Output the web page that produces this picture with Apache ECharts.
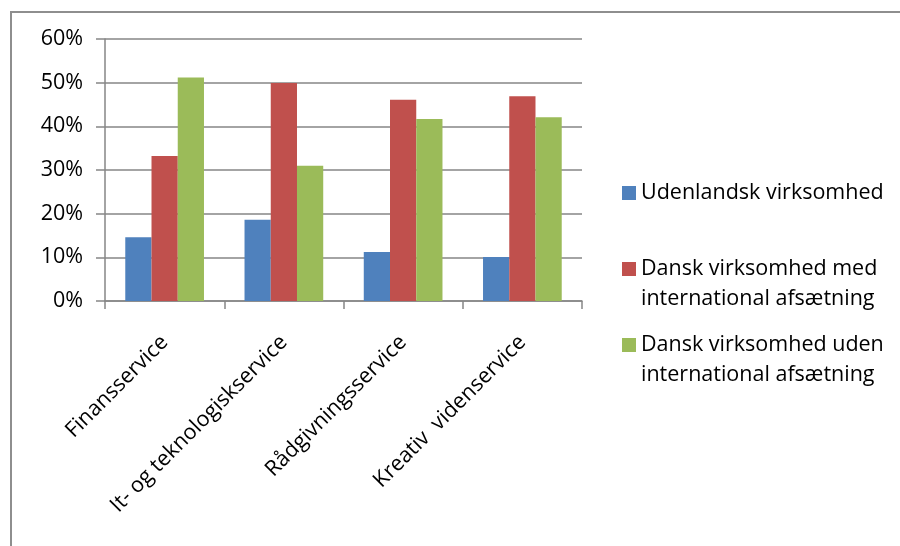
<!DOCTYPE html>
<html>
<head>
<meta charset="utf-8">
<script src="https://cdn.jsdelivr.net/npm/echarts@6/dist/echarts.min.js"></script>
<style>
  html, body { margin: 0; padding: 0; background: #ffffff; }
  #chart { width: 900px; height: 546px; }
</style>
</head>
<body>
<div id="chart"></div>
<script>
// Branche categories on the x axis
const categories = ['Finansservice', 'It- og teknologiskservice', 'Rådgivningsservice', 'Kreativ  videnservice'];

// Series names (legend entries)
const seriesNames = [
  'Udenlandsk virksomhed',
  'Dansk virksomhed med\ninternational afsætning',
  'Dansk virksomhed uden\ninternational afsætning'
];

// Shares in percent per category
const udenlandsk = [14.6, 18.6, 11.2, 10.1];
const danskMed = [33.2, 49.9, 46.1, 46.9];
const danskUden = [51.2, 31.0, 41.7, 42.1];

// Y axis range (percent)
const yMin = 0;
const yMax = 60;
const yStep = 10;

const colors = ['#4F81BD', '#C0504D', '#9BBB59'];
const FONT = '"Open Sans", "DejaVu Sans", sans-serif';
const FONT_SIZE = 21.5;
const axisGray = '#868686';

const chart = echarts.init(document.getElementById('chart'), null, { renderer: 'canvas' });

// One legend block per series so the entries can be spaced individually.
// Two-line names get a leading empty line so the swatch sits beside the first line.
function legendFor(index, top) {
  return {
    data: [seriesNames[index]],
    left: 622,
    top: top,
    orient: 'vertical',
    padding: 0,
    itemWidth: 14,
    itemHeight: 14,
    itemGap: 0,
    selectedMode: false,
    icon: 'rect',
    formatter: function (name) {
      return name.indexOf('\n') >= 0 ? '\n' + name : name;
    },
    textStyle: {
      fontFamily: FONT,
      fontSize: FONT_SIZE,
      color: '#000000',
      lineHeight: 30
    }
  };
}

const option = {
  animation: false,
  backgroundColor: '#ffffff',
  color: colors,
  graphic: [{
    type: 'rect',
    shape: { x: 11, y: 12, width: 1000, height: 1000 },
    style: { fill: 'none', stroke: '#8e8e8e', lineWidth: 2 },
    silent: true,
    z: 100
  }],
  legend: [
    legendFor(0, 178),
    legendFor(1, 224),
    legendFor(2, 300)
  ],
  grid: { left: 105, right: 318, top: 39, bottom: 245, containLabel: false },
  xAxis: {
    type: 'category',
    data: categories,
    axisLine: { lineStyle: { color: axisGray, width: 1.5 } },
    axisTick: { show: true, length: 8, lineStyle: { color: axisGray, width: 1.5 } },
    axisLabel: {
      rotate: 45,
      interval: 0,
      margin: 38,
      fontFamily: FONT,
      fontSize: FONT_SIZE,
      color: '#000000'
    }
  },
  yAxis: {
    type: 'value',
    min: yMin,
    max: yMax,
    interval: yStep,
    axisLine: { show: true, lineStyle: { color: axisGray, width: 1.5 } },
    axisTick: { show: true, length: 9, lineStyle: { color: axisGray, width: 1.5 } },
    splitLine: { show: true, lineStyle: { color: axisGray, width: 1.5 } },
    axisLabel: {
      formatter: '{value}%',
      margin: 22,
      fontFamily: FONT,
      fontSize: FONT_SIZE,
      color: '#000000'
    }
  },
  series: [
    { name: seriesNames[0], type: 'bar', data: udenlandsk, barGap: '0%', barCategoryGap: '34%' },
    { name: seriesNames[1], type: 'bar', data: danskMed, barGap: '0%', barCategoryGap: '34%' },
    { name: seriesNames[2], type: 'bar', data: danskUden, barGap: '0%', barCategoryGap: '34%' }
  ]
};

chart.setOption(option);
</script>
</body>
</html>
